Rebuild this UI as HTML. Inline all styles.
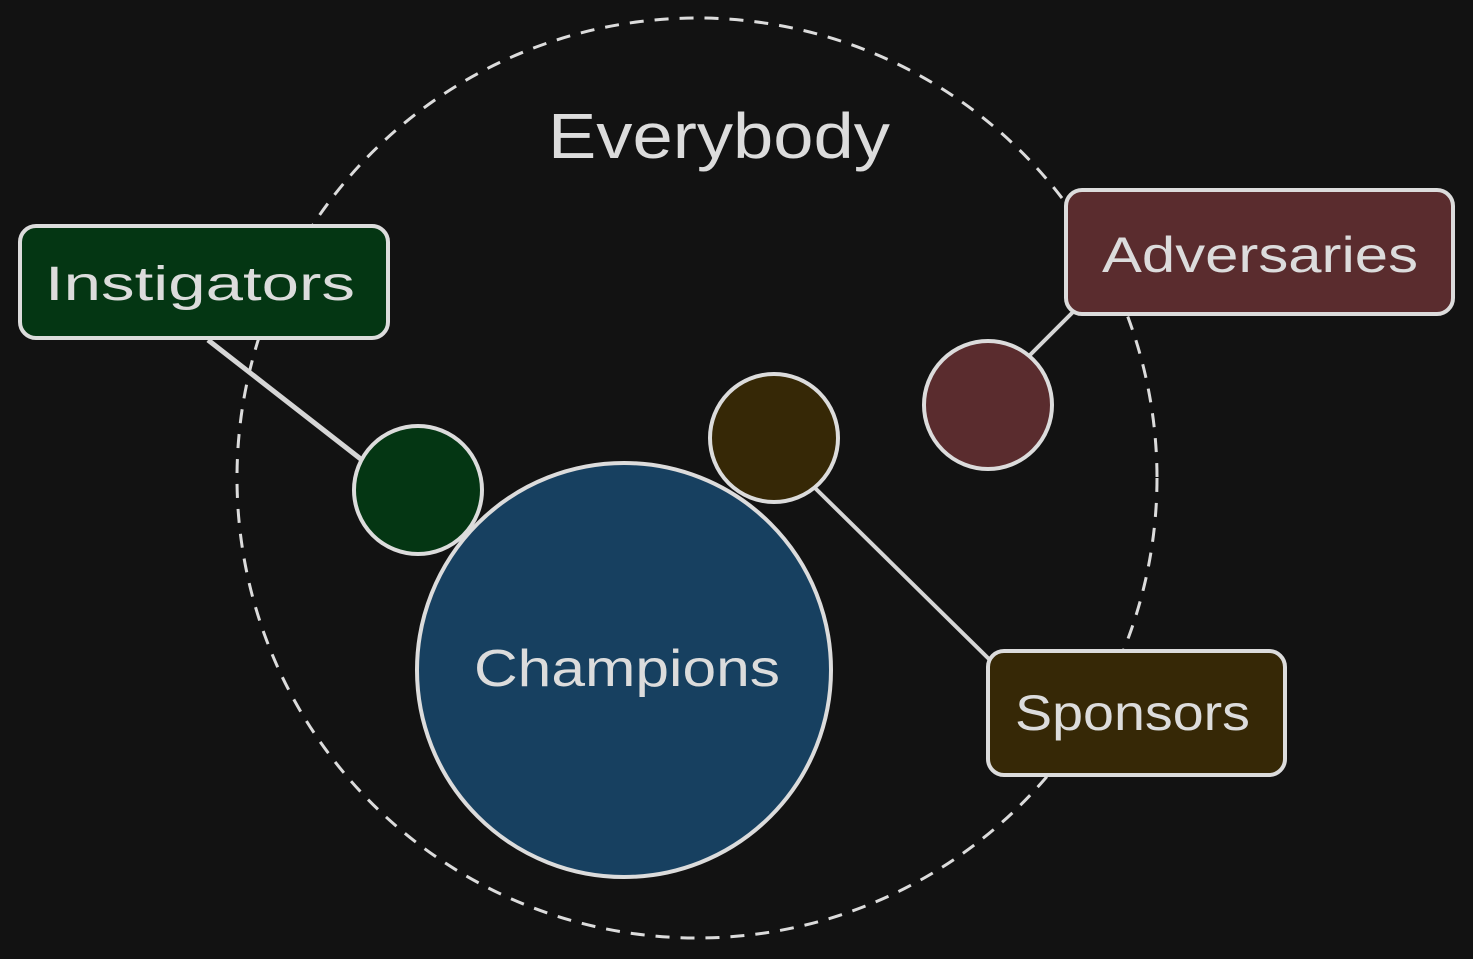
<!DOCTYPE html>
<html><head><meta charset="utf-8"><style>
html,body{margin:0;padding:0;background:#121212;}
svg{display:block}
text{font-family:"Liberation Sans",sans-serif;fill:#dcdcdc;}
</style></head><body>
<svg width="1473" height="959" viewBox="0 0 1473 959" xmlns="http://www.w3.org/2000/svg">
<rect width="1473" height="959" fill="#121212"/>
<circle cx="697" cy="478" r="460" fill="none" stroke="#dcdcdc" stroke-width="3" stroke-dasharray="14 11"/>
<line x1="208" y1="340" x2="362" y2="460" stroke="#d6d6d6" stroke-width="5"/>
<line x1="1080" y1="305" x2="1030" y2="355" stroke="#d6d6d6" stroke-width="4"/>
<line x1="815" y1="488" x2="992" y2="662" stroke="#d6d6d6" stroke-width="4"/>
<circle cx="624" cy="670" r="207" fill="#174060" stroke="#dcdcdc" stroke-width="4"/>
<circle cx="418" cy="490" r="64" fill="#043613" stroke="#dcdcdc" stroke-width="4"/>
<circle cx="774" cy="438" r="64" fill="#362806" stroke="#dcdcdc" stroke-width="4"/>
<circle cx="988" cy="405" r="64" fill="#5a2c2e" stroke="#dcdcdc" stroke-width="4"/>
<rect x="20" y="226" width="368" height="112" rx="16" fill="#043613" stroke="#dcdcdc" stroke-width="4"/>
<rect x="1066" y="190" width="387" height="124" rx="16" fill="#5a2c2e" stroke="#dcdcdc" stroke-width="4"/>
<rect x="988" y="651" width="297" height="124" rx="16" fill="#362806" stroke="#dcdcdc" stroke-width="4"/>
<text x="548" y="158" font-size="64" textLength="342" lengthAdjust="spacingAndGlyphs">Everybody</text>
<text x="45" y="300" font-size="48" textLength="310" lengthAdjust="spacingAndGlyphs">Instigators</text>
<text x="1102" y="272" font-size="50" textLength="316" lengthAdjust="spacingAndGlyphs">Adversaries</text>
<text x="1015" y="730" font-size="50" textLength="235" lengthAdjust="spacingAndGlyphs">Sponsors</text>
<text x="474" y="686" font-size="52" textLength="306" lengthAdjust="spacingAndGlyphs">Champions</text>
</svg>
</body></html>
